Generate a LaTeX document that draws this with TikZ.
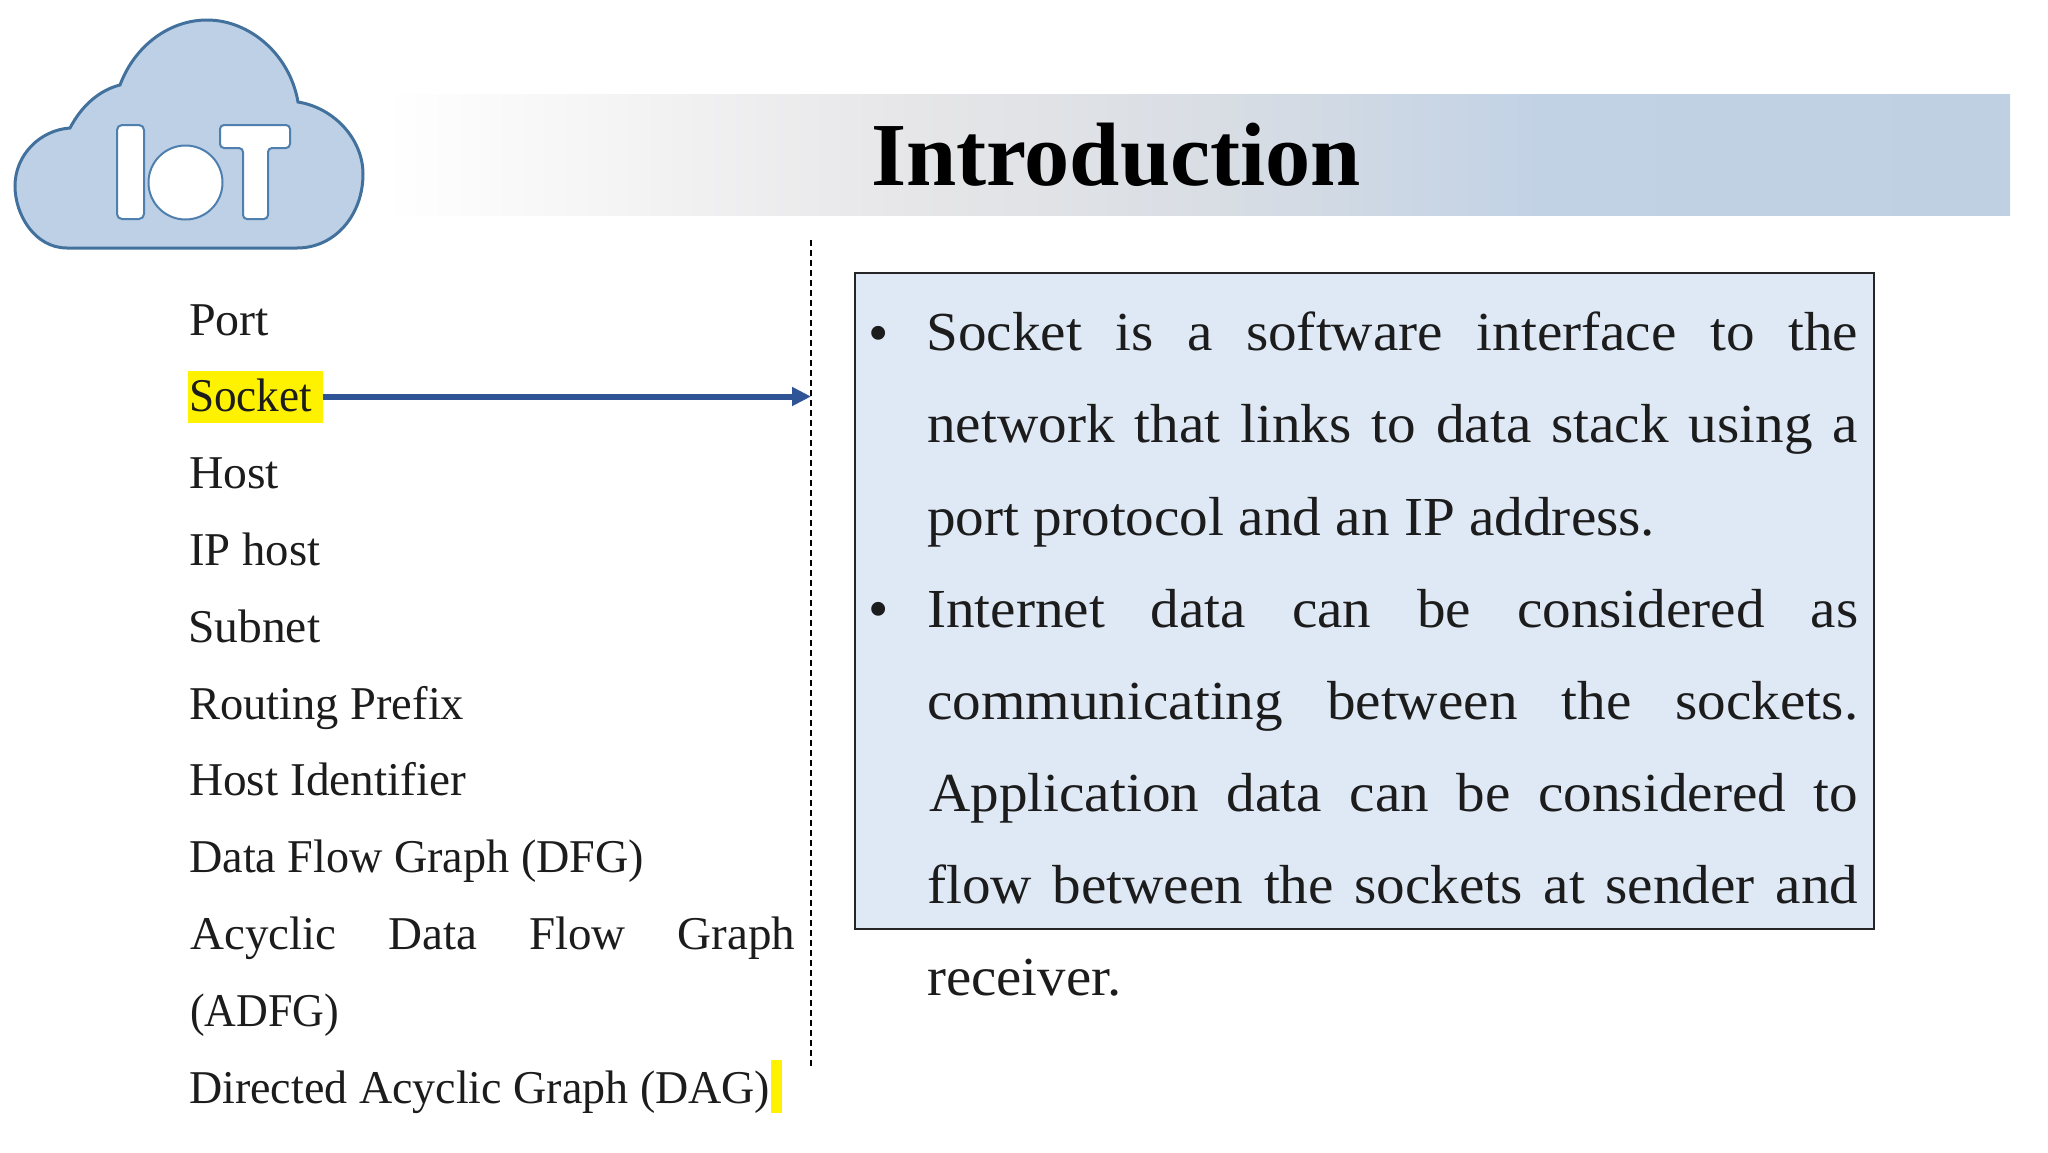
\documentclass[tikz,border=0pt]{standalone}
\usepackage{fontspec}
\usepackage{graphicx}
\usetikzlibrary{arrows.meta}
\setmainfont{Liberation Serif}
\newfontfamily\bodyfam[FakeStretch=1.04]{Liberation Serif}
\definecolor{cloudfill}{HTML}{BDD0E6}
\definecolor{cloudedge}{HTML}{41719C}
\definecolor{logoedge}{HTML}{4F7FAE}
\definecolor{boxfill}{HTML}{DFE9F5}
\definecolor{inkc}{HTML}{1C1C1C}
\definecolor{arrowc}{HTML}{2F5597}
\definecolor{bandmid}{HTML}{E6E6E8}
\definecolor{bandmidb}{HTML}{D8DDE4}
\definecolor{bandend}{HTML}{C2D2E5}
\definecolor{bandlast}{HTML}{C0D0E3}
\pgfdeclarehorizontalshading{bandshade}{100bp}{color(0bp)=(white);color(25bp)=(white);color(41.3bp)=(bandmid);color(51bp)=(bandmidb);color(60.5bp)=(bandend);color(75bp)=(bandlast);color(100bp)=(bandlast)}
\newcommand{\fitw}[2]{\resizebox{#1pt}{\height}{#2}}
\newcommand{\just}[2]{\makebox[#1pt][s]{#2}}
\tikzset{
  listitem/.style={anchor=base west,inner sep=0pt,text=inkc,font=\fontsize{47}{50}\selectfont},
  bodyline/.style={anchor=base west,inner sep=0pt,text=inkc,font=\bodyfam\fontsize{55}{60}\selectfont},
  bulletmark/.style={anchor=center,inner sep=0pt,text=inkc,font=\fontsize{58}{60}\selectfont},
  logoshape/.style={draw=logoedge,line width=2pt,fill=white},
}
\begin{document}
\begin{tikzpicture}[x=1pt,y=-1pt]
\useasboundingbox (0,0) rectangle (2048,1152);
\fill[white] (0,0) rectangle (2048,1152);
% banner
\shade[shading=bandshade] (385,94) rectangle (2010,215);
\node[anchor=base,inner sep=0pt,text=black,font=\fontsize{90}{96}\selectfont\bfseries] (title) at (1116,185) {\fitw{490}{Introduction}};
% cloud
\draw[cloudedge,fill=cloudfill,line width=3pt]
  (67,248) .. controls (35,248) and (15,215) .. (15,186)
  .. controls (15,155) and (40,130) .. (70,128)
  .. controls (82,105) and (100,90) .. (120,85)
  .. controls (135,45) and (170,20) .. (207,20)
  .. controls (250,20) and (290,55) .. (298,102)
  .. controls (335,108) and (363,140) .. (363,174)
  .. controls (363,215) and (335,248) .. (297,248) -- cycle;
\draw[logoshape,rounded corners=5pt] (117,125) rectangle (144,219);
\draw[logoshape] (185.5,182.5) circle (37);
\draw[logoshape,rounded corners=4pt] (220,125) -- (290,125) -- (290,148) -- (268,148) -- (268,219) -- (243,219) -- (243,148) -- (220,148) -- cycle;
% divider
\coordinate (divtop) at (811,240);
\coordinate (divbot) at (811,1069);
\draw[black,line width=1.5pt,dash pattern=on 6pt off 4pt] (divtop) -- (divbot);
% list
\node[inner sep=0pt,fill=yellow,minimum width=135pt,minimum height=52pt] (hl) at (255.5,396.5) {};
\node[inner sep=0pt,fill=yellow,minimum width=11pt,minimum height=53pt] (hlend) at (776.5,1086.5) {};
\node[listitem] (i1) at (189,335) {\fitw{80}{Port}};
\node[listitem] (i2) at (189,411.8) {\fitw{123}{Socket}};
\node[listitem] (i3) at (189,488.6) {\fitw{90}{Host}};
\node[listitem] (i4) at (189,565.4) {\fitw{131}{IP host}};
\node[listitem] (i5) at (188,642.2) {\fitw{132}{Subnet}};
\node[listitem] (i6) at (189,719) {\fitw{275}{Routing Prefix}};
\node[listitem] (i7) at (189,795.8) {\fitw{277}{Host Identifier}};
\node[listitem] (i8) at (189,872.6) {\fitw{455}{Data Flow Graph (DFG)}};
\node[listitem] (i9) at (190,949.4) {\just{605}{Acyclic Data Flow Graph}};
\node[listitem] (i10) at (190,1026.2) {\fitw{149}{(ADFG)}};
\node[listitem] (i11) at (189,1103) {\fitw{581}{Directed Acyclic Graph (DAG)}};
\draw[arrowc,line width=6pt,-{Triangle[length=19pt,width=18pt]}] (hl.east) -- (hl.east -| divtop);
% text box
\node[draw=black!85,line width=1.8pt,fill=boxfill,inner sep=0pt,minimum width=1019pt,minimum height=656pt] (box) at (1364.5,601) {};
\node[bulletmark] (b1) at (879,339) {•};
\node[bulletmark] (b2) at (879,615) {•};
\node[bodyline] (l1) at (926,350) {\just{932}{Socket is a software interface to the}};
\node[bodyline] (l2) at (927,442.5) {\just{931}{network that links to data stack using a}};
\node[bodyline] (l3) at (927,535) {\fitw{728}{port protocol and an IP address.}};
\node[bodyline] (l4) at (927,627) {\just{931}{Internet data can be considered as}};
\node[bodyline] (l5) at (927,719) {\just{931}{communicating between the sockets.}};
\node[bodyline] (l6) at (929,811) {\just{929}{Application data can be considered to}};
\node[bodyline] (l7) at (927,903.5) {\just{931}{flow between the sockets at sender and}};
\node[bodyline] (l8) at (927,995.5) {\fitw{194}{receiver.}};
\end{tikzpicture}
\end{document}
